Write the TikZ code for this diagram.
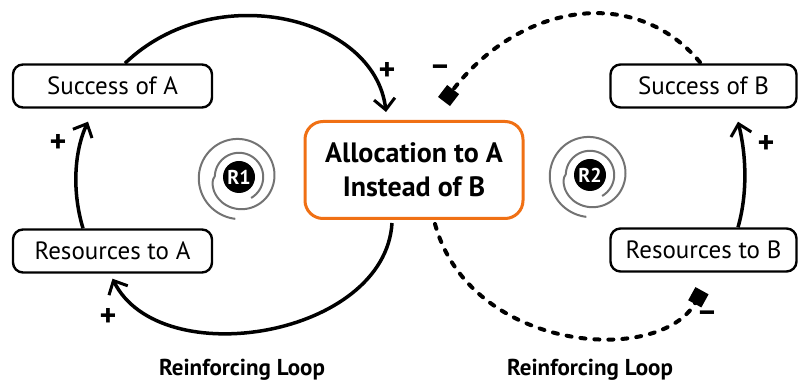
\documentclass[tikz,border=0pt]{standalone}
\usepackage{fontspec}
\setmainfont{PT Sans}
\usetikzlibrary{arrows.meta}
\definecolor{orng}{RGB}{240,112,20}
\definecolor{spir}{RGB}{115,115,115}
\begin{document}
\begin{tikzpicture}[x=1pt,y=1pt,
  box/.style={draw, line width=2.4pt, rounded corners=10pt, minimum height=43pt,
    font=\fontsize{25}{30}\selectfont, inner sep=0pt},
  allocbox/.style={draw=orng, line width=3pt, rounded corners=18pt, align=center,
    font=\fontsize{28}{34}\selectfont\bfseries, inner sep=0pt},
  poslink/.style={line width=3.5pt, -{Straight Barb[length=11pt,width=21pt,line width=3pt]}},
  neglink/.style={line width=4pt, line cap=round, dash pattern=on 5pt off 9pt,
    -{Square[length=15pt,width=15pt]}},
  signlbl/.style={font=\fontsize{32}{32}\selectfont\bfseries},
  looplbl/.style={font=\fontsize{23}{26}\selectfont\bfseries},
  rdisk/.style={circle, fill=black, minimum size=32pt, inner sep=0pt, text=white,
    font=\fontsize{20}{20}\selectfont\bfseries},
  spiral/.style={spir, line width=2pt}
]
\useasboundingbox (0,0) rectangle (800,382);

\node[box, minimum width=199pt] (sa) at (112.5,296) {Success of A};
\node[box, minimum width=199pt] (ra) at (112.5,131) {Resources to A};
\node[box, minimum width=186pt] (sb) at (703.5,296) {Success of B};
\node[box, minimum width=186pt] (rb) at (703.5,132) {Resources to B};
\node[allocbox, minimum width=218pt, minimum height=97pt] (al) at (414,212)
  {Allocation to A\\Instead of B};

% spirals
\foreach \cx/\cy in {239/205, 590/207}{
  \draw[spiral] plot[domain=265:-420, samples=220, variable=\t]
    ({\cx+(24+18*pow(max(0.0001,(\t+180)/445),0.5))*cos(\t)},
     {\cy+(24+18*pow(max(0.0001,(\t+180)/445),0.5))*sin(\t)});
}
\node[rdisk] (r1) at (239,205) {R1};
\node[rdisk] (r2) at (590,207) {R2};

% solid links
\draw[poslink] ([xshift=12.5pt]sa.north) .. controls (215,405) and (375,365) .. ([shift={(-28,8)}]al.north);
\draw[poslink] ([xshift=-29.5pt]ra.north) .. controls (72,190) and (74,230) .. ([shift={(-24.5,-13)}]sa.south);
\draw[poslink] ([shift={(-22,-3)}]al.south) .. controls (385,45) and (160,8) .. ([yshift=-5pt]ra.south);
\draw[poslink] ([xshift=34.5pt]rb.north) .. controls (748,190) and (746,228) .. ([shift={(34.5,-13)}]sb.south);

% dashed links
\draw[neglink] ([shift={(-3.5,1)}]sb.north) .. controls (636,397) and (520,380) .. ([shift={(30,18.5)}]al.north);
\draw[neglink] ([shift={(21,-4)}]al.south) .. controls (470,30) and (660,15) .. ([shift={(-1.5,-18)}]rb.south);

% signs
\node[signlbl] (s1) at (387,311) {+};
\node[signlbl] (s2) at (58,239) {+};
\node[signlbl] (s3) at (108,65) {+};
\node[signlbl] (s4) at (766,238) {+};
\node[signlbl] (s5) at (440,311) {\symbol{"2212}};
\node[signlbl] (s6) at (707,65) {\symbol{"2212}};

\node[looplbl] (l1) at (242,12) {Reinforcing Loop};
\node[looplbl] (l2) at (590,12) {Reinforcing Loop};
\end{tikzpicture}
\end{document}
